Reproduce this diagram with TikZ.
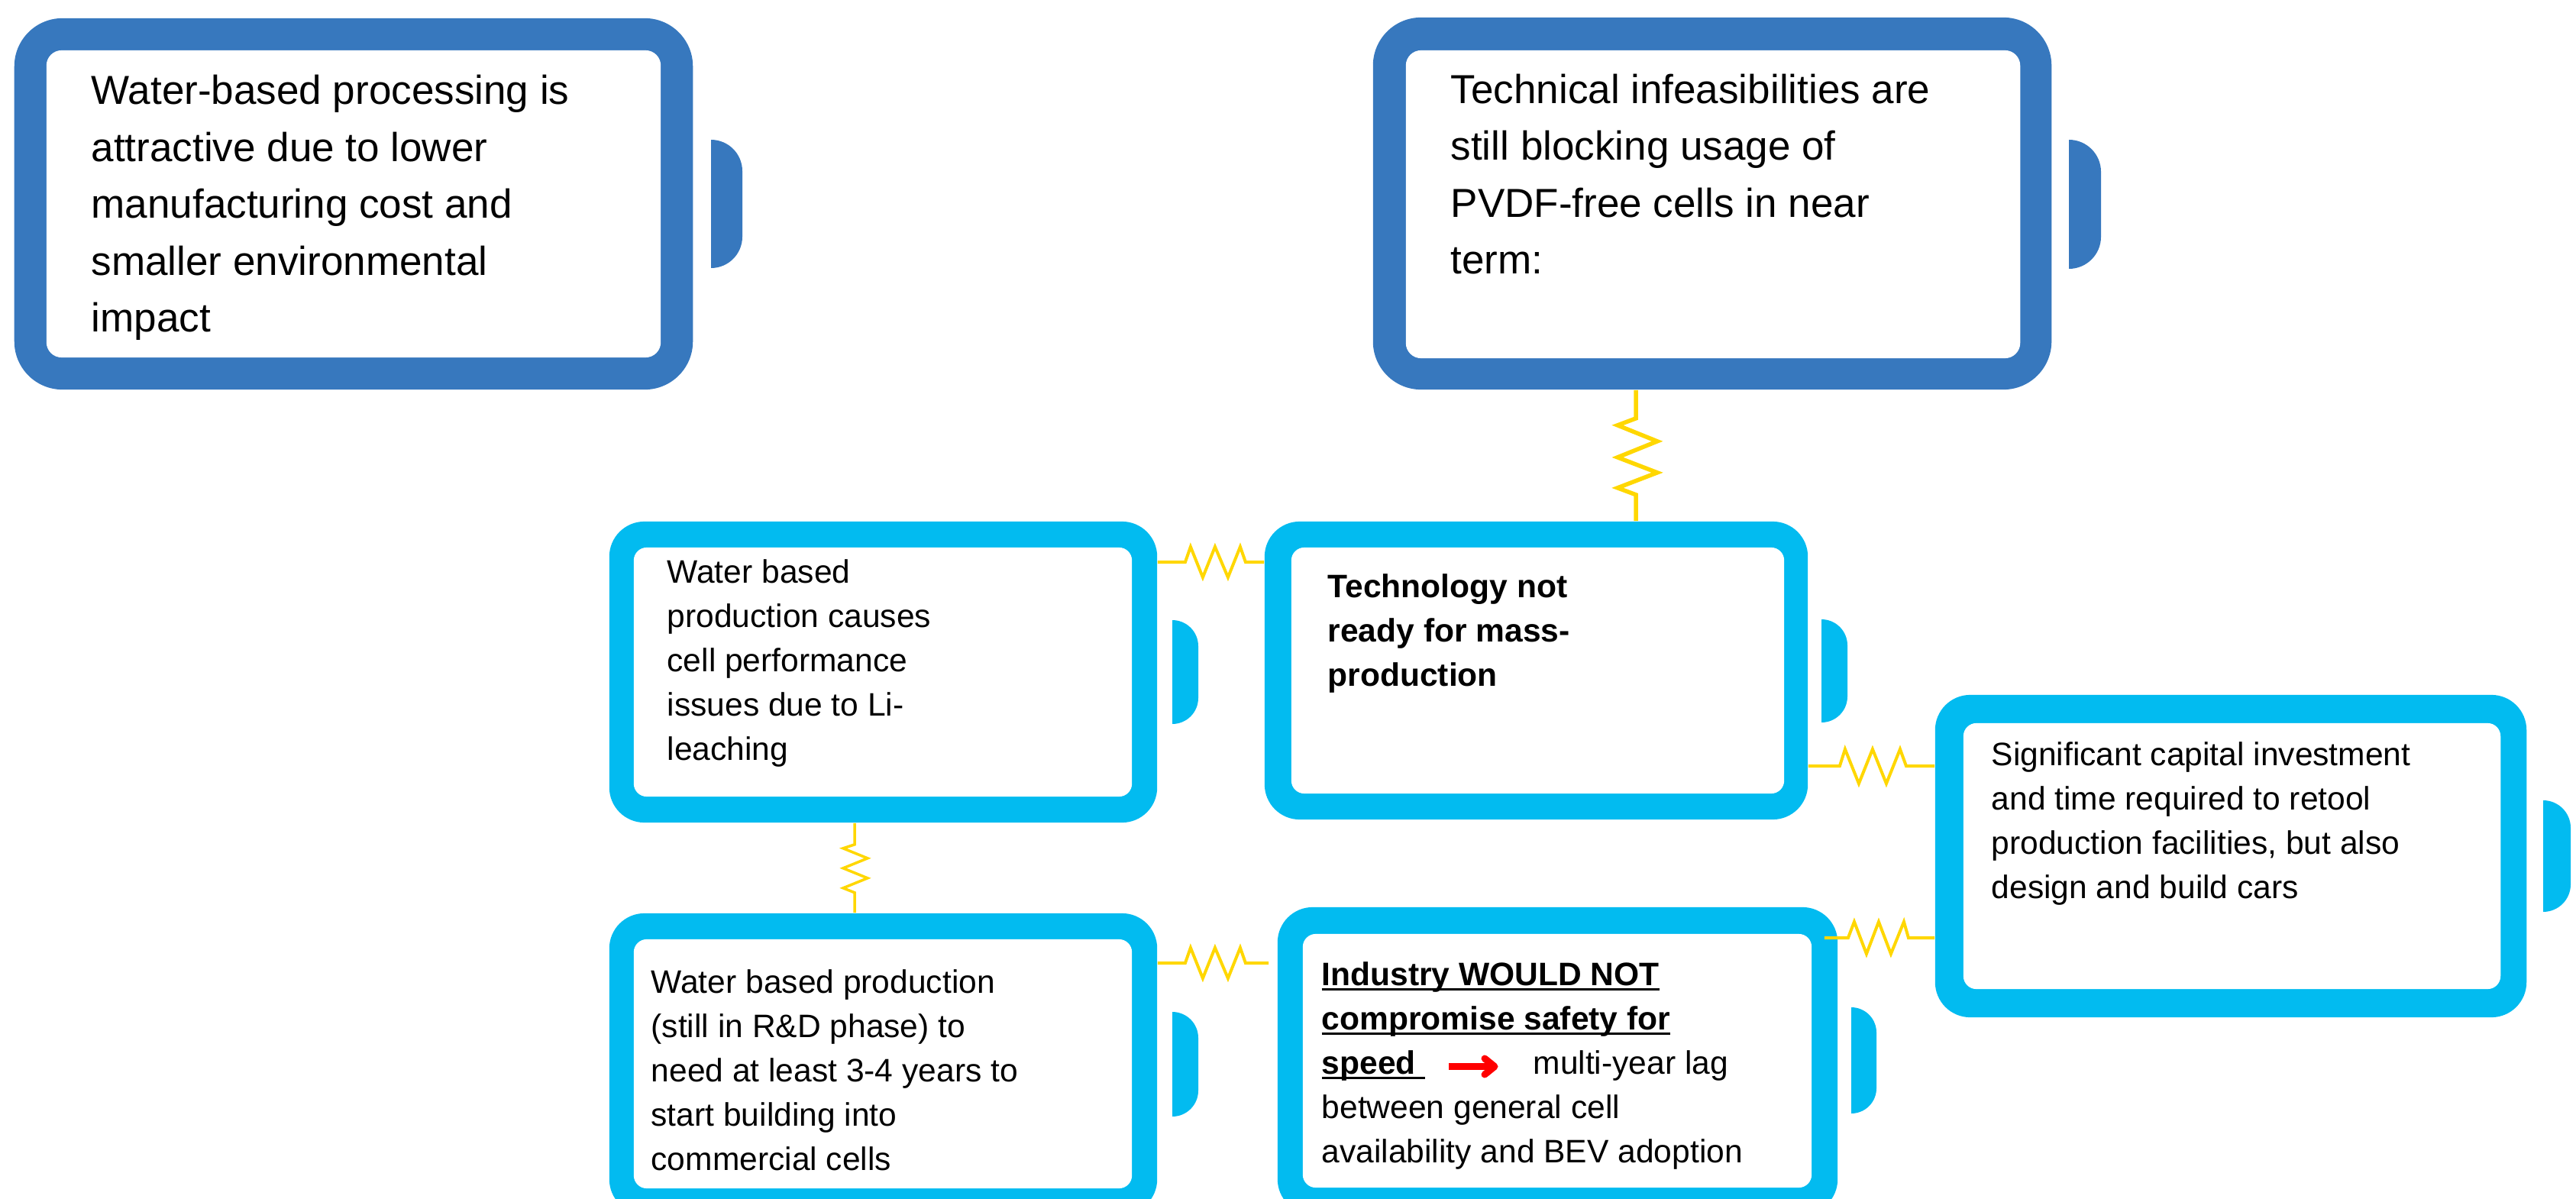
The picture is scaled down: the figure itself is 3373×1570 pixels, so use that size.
\documentclass[tikz,border=0pt]{standalone}
\usepackage{fontspec}
\setmainfont{Liberation Sans}
\usetikzlibrary{calc}
\definecolor{darkblue}{RGB}{55,120,190}
\definecolor{lightblue}{RGB}{2,187,240}
\definecolor{springyellow}{RGB}{255,215,0}
\definecolor{arrowred}{RGB}{255,0,0}
\newsavebox\ulsavebox
\newcommand\ulword[1]{\sbox\ulsavebox{#1}\rlap{\rule[-1.85pt]{\wd\ulsavebox}{1pt}}\usebox\ulsavebox}
\newcommand\battab[5]{%
  \begin{scope}
    \clip (#1,#2) rectangle (#3,#4);
    \pgfmathsetmacro\battabr{(#3-#1)/100}
    \fill[#5, rounded corners=\battabr cm] ({2*#1-#3},#2) rectangle (#3,#4);
  \end{scope}}
\begin{document}
\begin{tikzpicture}[x=0.01cm,y=-0.01cm,
  outerdark/.style={rectangle, inner sep=0, fill=darkblue, rounded corners=0.63cm},
  outerlight/.style={rectangle, inner sep=0, fill=lightblue, rounded corners=0.46cm},
  innerdark/.style={rectangle, inner sep=0, fill=white, rounded corners=0.2cm},
  innerlight/.style={rectangle, inner sep=0, fill=white, rounded corners=0.17cm},
  txtbig/.style={anchor=north west, inner sep=0, align=left, font=\fontsize{15.08pt}{21.2pt}\selectfont},
  txtsmall/.style={anchor=north west, inner sep=0, align=left, font=\fontsize{12.1pt}{16.5pt}\selectfont},
  springlink/.style={draw=springyellow, line width=0.04cm},
  redarrow/.style={draw=arrowred, line width=0.09cm}
]
\useasboundingbox (0,0) rectangle (3373,1570);
\clip (0,0) rectangle (3373,1570);

% ---- box 1 (dark)
\node[outerdark, minimum width=8.88cm, minimum height=4.86cm] (b1) at (463,267) {};
\node[innerdark, minimum width=8.04cm, minimum height=4.02cm] (b1i) at (463,267) {};
\battab{931}{183}{972}{351}{darkblue}
\node[txtbig] (t1) at (119,83.8) {\strut Water-based processing is\\attractive due to lower\\manufacturing cost and\\smaller environmental\\impact};

% ---- box 2 (dark)
\node[outerdark, minimum width=8.88cm, minimum height=4.87cm] (b2) at (2242,266.5) {};
\node[innerdark, minimum width=8.04cm, minimum height=4.03cm] (b2i) at (2243,267.5) {};
\battab{2709}{183}{2751}{352}{darkblue}
\node[txtbig] (t2) at (1899,82.4) {\strut Technical infeasibilities are\\still blocking usage of\\PVDF-free cells in near\\term:};

% ---- box 3
\node[outerlight, minimum width=7.17cm, minimum height=3.94cm] (b3) at (1156.5,880) {};
\node[innerlight, minimum width=6.52cm, minimum height=3.26cm] (b3i) at (1156,880) {};
\battab{1535}{812}{1569}{948}{lightblue}
\node[txtsmall] (t3) at (873,722.4) {\strut Water based\\production causes\\cell performance\\issues due to Li-\\leaching};

% ---- box 4
\node[outerlight, minimum width=7.11cm, minimum height=3.90cm] (b4) at (2011.5,878) {};
\node[innerlight, minimum width=6.45cm, minimum height=3.22cm] (b4i) at (2013.5,878) {};
\battab{2385}{811}{2419}{946}{lightblue}
\node[txtsmall, font=\fontsize{12.1pt}{16.5pt}\selectfont\bfseries] (t4) at (1738,741.4) {\strut Technology not\\ready for mass-\\production};

% ---- box 5
\node[outerlight, minimum width=7.17cm, minimum height=3.94cm] (b5) at (1156.5,1393) {};
\node[innerlight, minimum width=6.52cm, minimum height=3.26cm] (b5i) at (1156,1393) {};
\battab{1535}{1325}{1569}{1462}{lightblue}
\node[txtsmall] (t5) at (852,1259.4) {\strut Water based production\\(still in R\&D phase) to\\need at least 3-4 years to\\start building into\\commercial cells};

% ---- box 6
\node[outerlight, minimum width=7.74cm, minimum height=4.22cm] (b6) at (2921,1121) {};
\node[innerlight, minimum width=7.03cm, minimum height=3.48cm] (b6i) at (2922.5,1121) {};
\battab{3330}{1048}{3366}{1194}{lightblue}
\node[txtsmall] (t6) at (2607,961.4) {\strut Significant capital investment\\and time required to retool\\production facilities, but also\\design and build cars};

% ---- box 7
\node[outerlight, minimum width=7.33cm, minimum height=4.02cm] (b7) at (2039.5,1389) {};
\node[innerlight, minimum width=6.66cm, minimum height=3.32cm] (b7i) at (2039,1389) {};
\battab{2424}{1319}{2457}{1458}{lightblue}
\node[txtsmall] (t7) at (1730,1249.4) {\strut\ulword{\textbf{Industry WOULD NOT}}\\\ulword{\textbf{compromise safety for}}\\\ulword{\textbf{speed }}\hspace{40.4pt}multi-year lag\\between general cell\\availability and BEV adoption};
\draw[redarrow] (1897,1396.5) -- (1951,1396.5);
\draw[redarrow, line cap=round, line join=round] (1944,1386) -- (1957,1396.5) -- (1944,1407);

% ---- springs
\coordinate (s1x) at (2142,0);
\draw[springlink, line width=0.055cm] (b2.south -| s1x) -- ++(0,37) -- ++(-24,9) -- ++(52,21) -- ++(-52,21) -- ++(52,20) -- ++(-52,20) -- ++(24,9) -- (b4.north -| s1x);

\coordinate (s5x) at (1119,0);
\draw[springlink, line width=0.035cm] (b3.south -| s5x) -- ++(0,28) -- ++(-15,5) -- ++(32,13) -- ++(-32,13) -- ++(32,13) -- ++(-32,13) -- ++(15,6) -- (b5.north -| s5x);

\coordinate (s2y) at (0,736);
\draw[springlink] (b3.east |- s2y) -- ++(36,0) -- ++(7,-20) -- ++(16,40) -- ++(16,-40) -- ++(17,40) -- ++(16,-40) -- ++(7,20) -- (b4.west |- s2y);

\coordinate (s3y) at (0,1003);
\draw[springlink] (b4.east |- s3y) -- ++(41,0) -- ++(7,-22) -- ++(18,45) -- ++(18,-45) -- ++(18,45) -- ++(18,-45) -- ++(8,22) -- (b6.west |- s3y);

\coordinate (s4y) at (0,1228);
\draw[springlink] ($(b7.east |- s4y)+(-18,0)$) -- ++(31,0) -- ++(8,-21) -- ++(16,42) -- ++(16,-42) -- ++(16,42) -- ++(17,-42) -- ++(6,21) -- (b6.west |- s4y);

\coordinate (s6y) at (0,1261);
\draw[springlink] (b5.east |- s6y) -- ++(36,0) -- ++(7,-20) -- ++(16,40) -- ++(16,-40) -- ++(17,40) -- ++(16,-40) -- ++(7,20) -- ($(b7.west |- s6y)+(-11,0)$);
\end{tikzpicture}
\end{document}
